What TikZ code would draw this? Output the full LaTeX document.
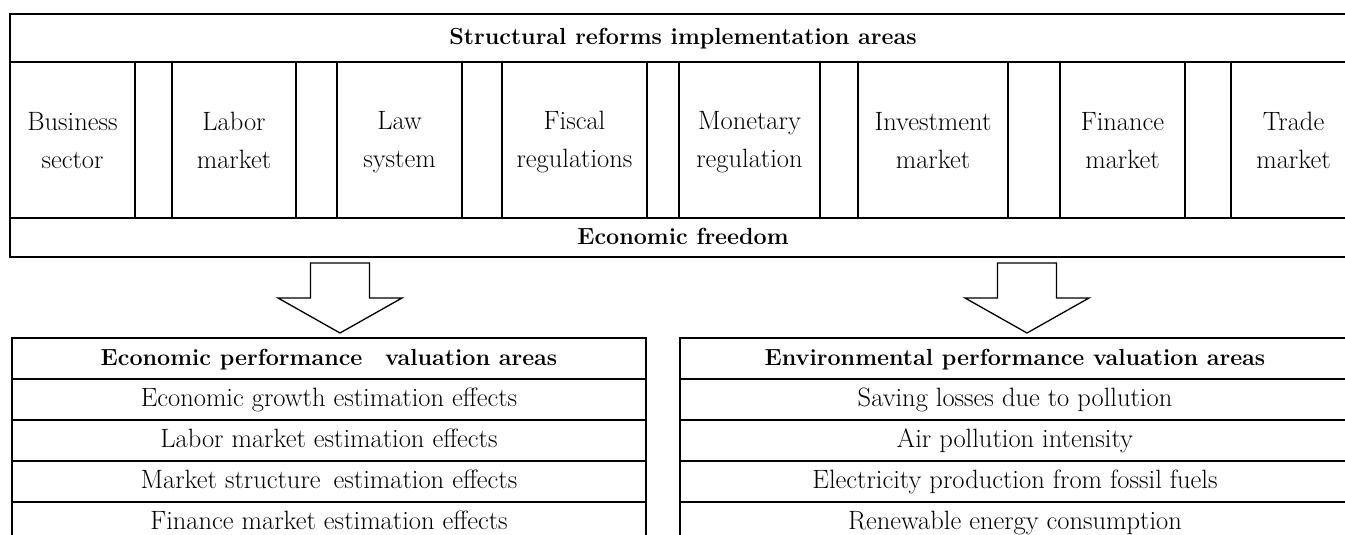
\documentclass[tikz,border=0pt]{standalone}
\usepackage{fontspec}
\newcommand\twoline[2]{\rule{0pt}{22pt}#1\\#2\rule[-4pt]{0pt}{4pt}}
\begin{document}
\begin{tikzpicture}[x=1pt,y=-1pt,
  cell/.style={draw, line width=1.6pt, inner sep=0pt, outer sep=0pt, anchor=north west},
  reg/.style={font=\fontsize{26.5}{38}\selectfont},
  bld/.style={font=\bfseries\fontsize{23.3}{28}\selectfont},
  onerow/.style={text height=18pt, text depth=5pt},
  colcell/.style={cell, reg, align=center, minimum height=156pt},
  frame/.style={draw, line width=2pt},
  arrowline/.style={draw, line width=1.3pt, line join=miter, fill=white},
  barrow/.pic={\path[arrowline] (-29.5,0) -- (-29.5,35) -- (-62,35) -- (0,70) -- (62,35) -- (29.5,35) -- (29.5,0) -- cycle;}]
\useasboundingbox (0,0) rectangle (1345,535);
\clip (0,0) rectangle (1345,535);
% top box
\node[cell, bld, onerow, minimum width=1346pt, minimum height=48pt] (title) at (10,14) {Structural reforms implementation areas};
\node[colcell, minimum width=125pt] (biz) at (10,62) {\twoline{Business}{sector}};
\node[colcell, minimum width=37pt] (g1) at (135,62) {};
\node[colcell, minimum width=124pt] (lab) at (172,62) {\twoline{Labor}{market}};
\node[colcell, minimum width=41pt] (g2) at (296,62) {};
\node[colcell, minimum width=125pt] (law) at (337,62) {\twoline{Law}{system}};
\node[colcell, minimum width=40pt] (g3) at (462,62) {};
\node[colcell, minimum width=145pt] (fis) at (502,62) {\twoline{Fiscal}{regulations}};
\node[colcell, minimum width=32pt] (g4) at (647,62) {};
\node[colcell, minimum width=141pt] (mon) at (679,62) {\twoline{Monetary}{regulation}};
\node[colcell, minimum width=38pt] (g5) at (820,62) {};
\node[colcell, minimum width=150pt] (inv) at (858,62) {\twoline{Investment}{market}};
\node[colcell, minimum width=52pt] (g6) at (1008,62) {};
\node[colcell, minimum width=125pt] (fin) at (1060,62) {\twoline{Finance}{market}};
\node[colcell, minimum width=46pt] (g7) at (1185,62) {};
\node[colcell, minimum width=125pt] (trd) at (1231,62) {\twoline{Trade}{market}};
\node[cell, bld, onerow, minimum width=1346pt, minimum height=39pt] (free) at (10,218) {Economic freedom};
\draw[frame] (title.north west) rectangle (free.south east);
% arrows
\pic at (340,263) {barrow};
\pic at (1027,263) {barrow};
% left box
\node[cell, bld, onerow, minimum width=634pt, minimum height=41pt] (l0) at (12,338) {Economic performance\hspace{14pt} valuation areas};
\node[cell, reg, onerow, minimum width=634pt, minimum height=41pt] (l1) at (12,379) {Economic growth estimation effects};
\node[cell, reg, onerow, minimum width=634pt, minimum height=41pt] (l2) at (12,420) {Labor market estimation effects};
\node[cell, reg, onerow, minimum width=634pt, minimum height=41pt] (l3) at (12,461) {Market structure\hspace{5pt} estimation effects};
\node[cell, reg, onerow, minimum width=634pt, minimum height=41pt] (l4) at (12,502) {Finance market estimation effects};
\draw[frame] (l0.north west) rectangle (l4.south east);
% right box
\node[cell, bld, onerow, minimum width=670pt, minimum height=41pt] (r0) at (680,338) {Environmental performance valuation areas};
\node[cell, reg, onerow, minimum width=670pt, minimum height=41pt] (r1) at (680,379) {Saving losses due to pollution};
\node[cell, reg, onerow, minimum width=670pt, minimum height=41pt] (r2) at (680,420) {Air pollution intensity};
\node[cell, reg, onerow, minimum width=670pt, minimum height=41pt] (r3) at (680,461) {Electricity production from fossil fuels};
\node[cell, reg, onerow, minimum width=670pt, minimum height=41pt] (r4) at (680,502) {Renewable energy consumption};
\draw[frame] (r0.north west) rectangle (r4.south east);
\end{tikzpicture}
\end{document}
